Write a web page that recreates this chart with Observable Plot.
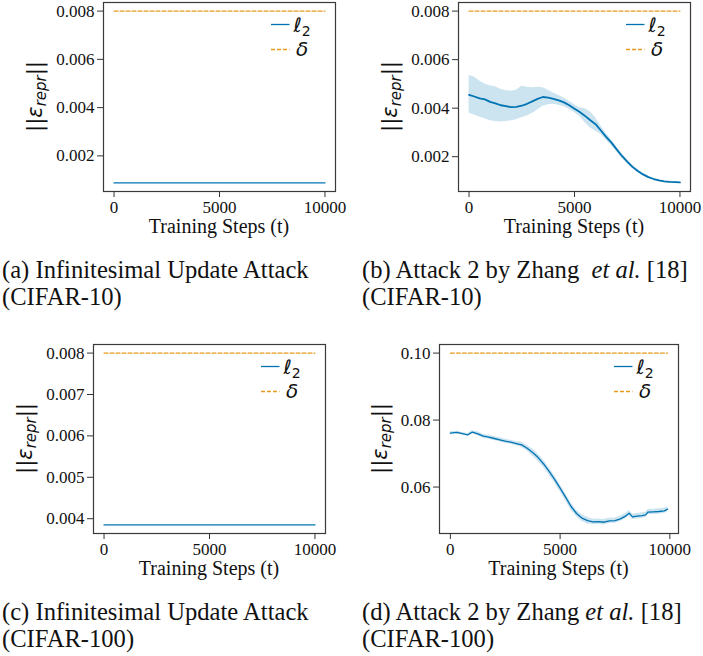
<!DOCTYPE html>
<html><head><meta charset="utf-8">
<script src="https://cdn.jsdelivr.net/npm/d3@7"></script>
<script src="https://cdn.jsdelivr.net/npm/@observablehq/plot@0.6"></script>
<style>
body{margin:0;background:#fff;}
#root{position:relative;width:703px;height:656px;background:#fff;overflow:hidden;}
.panel{position:absolute;}
.cap{position:absolute;font-family:"Liberation Serif","Times New Roman",serif;font-size:24.6px;line-height:27px;color:#111;white-space:nowrap;}
</style></head><body><div id="root"></div>
<script>
// ---------- data ----------
const xTicks = [0, 5000, 10000];

// (a) Infinitesimal Update Attack, CIFAR-10
const stepsA = [0, 10000];
const l2A = [0.00088, 0.00088];
const deltaA = 0.008;
const yTicksA = [0.002, 0.004, 0.006, 0.008];

// (b) Attack 2 by Zhang et al., CIFAR-10
const stepsB = [0,250,500,750,1000,1250,1500,1750,2000,2250,2500,2750,3000,3250,3500,3750,4000,4250,4500,4750,5000,5250,5500,5750,6000,6250,6500,6750,7000,7250,7500,7750,8000,8250,8500,8750,9000,9250,9500,9750,10000];
const l2B = [0.00455,0.00448,0.00440,0.00436,0.00426,0.00420,0.00412,0.00408,0.00404,0.00405,0.00410,0.00418,0.00428,0.00438,0.00446,0.00443,0.00438,0.00432,0.00424,0.00412,0.00398,0.00384,0.00368,0.00350,0.00334,0.00308,0.00282,0.00258,0.00230,0.00203,0.00180,0.00158,0.00141,0.00127,0.00116,0.00108,0.00102,0.00098,0.00096,0.00095,0.00094];
const hiB = [0.00535,0.00528,0.00512,0.00500,0.00492,0.00488,0.00478,0.00472,0.00470,0.00474,0.00490,0.00486,0.00484,0.00486,0.00484,0.00474,0.00462,0.00452,0.00442,0.00428,0.00414,0.00402,0.00398,0.00385,0.00360,0.00326,0.00296,0.00270,0.00240,0.00212,0.00188,0.00165,0.00147,0.00132,0.00120,0.00111,0.00105,0.00100,0.00098,0.00097,0.00096];
const loB = [0.00380,0.00372,0.00364,0.00356,0.00348,0.00345,0.00343,0.00345,0.00348,0.00352,0.00360,0.00368,0.00378,0.00392,0.00408,0.00414,0.00416,0.00412,0.00406,0.00396,0.00382,0.00366,0.00340,0.00318,0.00305,0.00292,0.00268,0.00246,0.00220,0.00194,0.00172,0.00151,0.00135,0.00122,0.00112,0.00105,0.00099,0.00096,0.00094,0.00093,0.00092];
const deltaB = 0.008;
const yTicksB = [0.002, 0.004, 0.006, 0.008];

// (c) Infinitesimal Update Attack, CIFAR-100
const stepsC = [0, 10000];
const l2C = [0.00385, 0.00385];
const deltaC = 0.008;
const yTicksC = [0.004, 0.005, 0.006, 0.007, 0.008];

// (d) Attack 2 by Zhang et al., CIFAR-100
const stepsD = [0,300,500,700,800,1000,1250,1500,1750,2000,2250,2500,2750,3000,3250,3500,3750,4000,4250,4500,4750,5000,5250,5500,5750,6000,6250,6500,6750,7000,7250,7500,7750,8000,8150,8300,8500,8750,8900,9000,9250,9500,9750,9900];
const l2D = [0.0761,0.0763,0.0760,0.0757,0.0756,0.0764,0.0759,0.0752,0.0749,0.0745,0.0741,0.0737,0.0734,0.0730,0.0726,0.0716,0.0703,0.0688,0.0669,0.0647,0.0623,0.0597,0.0570,0.0542,0.0521,0.0507,0.0500,0.0496,0.0497,0.0495,0.0499,0.0500,0.0505,0.0514,0.0522,0.0511,0.0513,0.0515,0.0517,0.0525,0.0526,0.0527,0.0529,0.0534];
const spreadD = [0.0004,0.0004,0.0004,0.0004,0.0004,0.0004,0.0006,0.0006,0.0006,0.0006,0.0006,0.0006,0.0006,0.0006,0.0008,0.0008,0.0011,0.0011,0.0011,0.0011,0.0011,0.0011,0.0011,0.0011,0.0010,0.0010,0.0010,0.0008,0.0008,0.0008,0.0008,0.0008,0.0008,0.0008,0.0008,0.0008,0.0008,0.0008,0.0008,0.0008,0.0008,0.0008,0.0008,0.0008];
const deltaD = 0.1;
const yTicksD = [0.06, 0.08, 0.10];

const captions = [
  ["(a) Infinitesimal Update Attack", "(CIFAR-10)"],
  ["(b) Attack 2 by Zhang&nbsp;&nbsp;<i>et al.</i> [18]", "(CIFAR-10)"],
  ["(c) Infinitesimal Update Attack", "(CIFAR-100)"],
  ["(d) Attack 2 by Zhang <i>et al.</i> [18]", "(CIFAR-100)"]
];
const xLabel = "Training Steps (t)";

// ---------- drawing ----------
const BLUE = "#0173b2", ORANGE = "#e69a1e";
const SERIF = "Liberation Serif, Times New Roman, serif";
const SANS = "DejaVu Sans, sans-serif";
const root = document.getElementById("root");

function panel(o) {
  const rows = o.steps.map((t, i) => ({t, v: o.mean[i], lo: o.lo ? o.lo[i] : null, hi: o.hi ? o.hi[i] : null}));
  const deltaRows = [o.steps[0], o.steps[o.steps.length - 1]].map(t => ({t, v: o.delta}));
  const ys = [...o.mean, ...(o.lo || []), ...(o.hi || []), o.delta];
  const [y0, y1] = d3.extent(ys); const py = (y1 - y0) * 0.05;
  const [x0, x1] = d3.extent(o.steps); const px = (x1 - x0) * 0.05;
  const m = o.margin;
  const marks = [];
  if (o.lo) marks.push(Plot.areaY(rows, {x: "t", y1: "lo", y2: "hi", fill: BLUE, fillOpacity: 0.2}));
  marks.push(Plot.line(rows, {x: "t", y: "v", stroke: BLUE, strokeWidth: o.lw}));
  marks.push(Plot.line(deltaRows, {x: "t", y: "v", stroke: ORANGE, strokeWidth: 1.3, strokeDasharray: "4,2"}));
  marks.push(Plot.frame({stroke: "#3a3a3a", strokeWidth: 1.2}));
  marks.push(Plot.axisX({ticks: xTicks, tickFormat: d3.format("d"), tickSize: 6, tickPadding: 3, fontSize: 17, fontFamily: SERIF, label: null, stroke: "#333"}));
  marks.push(Plot.axisY({ticks: o.yTicks, tickFormat: d3.format(o.yFmt), tickSize: 6, tickPadding: 3, fontSize: 17, fontFamily: SERIF, label: null, stroke: "#333"}));
  const svg = Plot.plot({
    width: o.width, height: o.height,
    marginLeft: m[0], marginRight: m[1], marginTop: m[2], marginBottom: m[3],
    x: {domain: [x0 - px, x1 + px]},
    y: {domain: [y0 - py, y1 + py]},
    style: {background: "transparent", color: "#111", overflow: "visible"},
    marks
  });
  const div = document.createElement("div");
  div.className = "panel";
  div.style.left = o.left + "px"; div.style.top = o.top + "px";
  div.style.width = o.width + "px"; div.style.height = o.height + "px";
  div.appendChild(svg);
  root.appendChild(div);

  const s = d3.select(svg);
  const fl = m[0], fr = o.width - m[1], ft = m[2], fb = o.height - m[3];
  // x label
  s.append("text").attr("x", (fl + fr) / 2).attr("y", fb + 42)
    .attr("text-anchor", "middle").attr("font-family", SERIF).attr("font-size", 20).attr("fill", "#111")
    .text(xLabel);
  // y label ||ε_repr||
  const yl = s.append("text")
    .attr("transform", `translate(${fl - o.ylabDx},${(ft + fb) / 2}) rotate(-90)`)
    .attr("text-anchor", "middle").attr("font-family", SANS).attr("font-size", 21).attr("fill", "#111");
  yl.append("tspan").text("||");
  yl.append("tspan").attr("font-style", "italic").text("ε");
  yl.append("tspan").attr("font-style", "italic").attr("font-size", 15).attr("dy", 4).text("repr");
  yl.append("tspan").attr("dy", -4).text("||");
  // legend
  const lx = fr - 64, ly1 = ft + 22.5, ly2 = ft + 47.5;
  s.append("line").attr("x1", lx).attr("x2", lx + 18.5).attr("y1", ly1).attr("y2", ly1)
    .attr("stroke", BLUE).attr("stroke-width", 1.3);
  s.append("line").attr("x1", lx).attr("x2", lx + 18.5).attr("y1", ly2).attr("y2", ly2)
    .attr("stroke", ORANGE).attr("stroke-width", 1.3).attr("stroke-dasharray", "4,2");
  const t1 = s.append("text").attr("x", lx + 31).attr("y", ly1 + 7)
    .attr("font-family", SANS).attr("font-size", 20).attr("fill", "#111");
  t1.append("tspan").attr("font-style", "italic").text("ℓ");
  t1.append("tspan").attr("font-size", 14).attr("dy", 4).text("2");
  s.append("text").attr("x", lx + 31).attr("y", ly2 + 6.5)
    .attr("font-family", SANS).attr("font-size", 20).attr("font-style", "italic").attr("fill", "#111").text("δ");
}

panel({left: 0, top: 0, width: 350, height: 245, margin: [103, 15, 2, 54],
  steps: stepsA, mean: l2A, delta: deltaA, yTicks: yTicksA, yFmt: ".3f", ylabDx: 61, lw: 1.3});
panel({left: 350, top: 0, width: 353, height: 245, margin: [108, 13, 2, 54],
  steps: stepsB, mean: l2B, lo: loB, hi: hiB, delta: deltaB, yTicks: yTicksB, yFmt: ".3f", ylabDx: 61, lw: 1.8});
panel({left: 0, top: 342, width: 350, height: 245, margin: [93, 25, 2, 54],
  steps: stepsC, mean: l2C, delta: deltaC, yTicks: yTicksC, yFmt: ".3f", ylabDx: 61, lw: 1.3});
panel({left: 350, top: 342, width: 353, height: 245, margin: [89, 25, 2, 54],
  steps: stepsD, mean: l2D, lo: l2D.map((v, i) => v - spreadD[i]), hi: l2D.map((v, i) => v + spreadD[i]),
  delta: deltaD, yTicks: yTicksD, yFmt: ".2f", ylabDx: 52, lw: 1.3});

const capPos = [[2, 256], [362, 256], [2, 598], [362, 598]];
captions.forEach((c, i) => {
  const d = document.createElement("div");
  d.className = "cap";
  d.style.left = capPos[i][0] + "px"; d.style.top = capPos[i][1] + "px";
  d.innerHTML = c[0] + "<br>" + c[1];
  root.appendChild(d);
});
</script></body></html>
